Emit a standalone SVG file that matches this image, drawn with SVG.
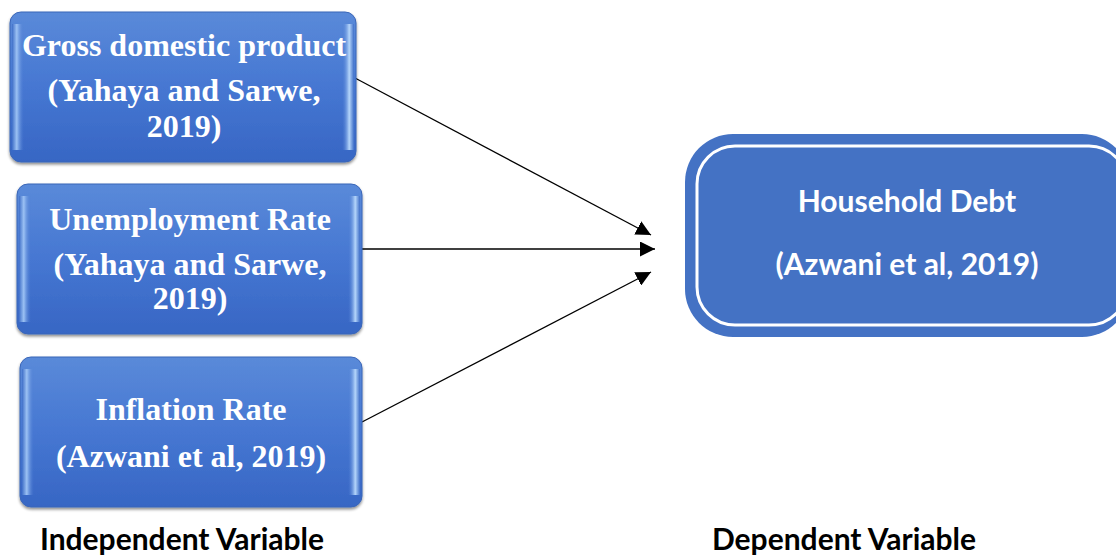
<svg xmlns="http://www.w3.org/2000/svg" width="1116" height="555" viewBox="0 0 1116 555">
<defs>
<linearGradient id="boxFill" x1="0" y1="0" x2="0" y2="1">
<stop offset="0" stop-color="#5a8ad9"/>
<stop offset="0.5" stop-color="#4677d2"/>
<stop offset="1" stop-color="#3766c4"/>
</linearGradient>
<linearGradient id="bevelL" x1="0" y1="0" x2="1" y2="0">
<stop offset="0" stop-color="#3f6fc8"/>
<stop offset="0.4" stop-color="#9cc2f4"/>
<stop offset="1" stop-color="#4a7ad2" stop-opacity="0"/>
</linearGradient>
<linearGradient id="bevelR" x1="1" y1="0" x2="0" y2="0">
<stop offset="0" stop-color="#3f6fc8"/>
<stop offset="0.4" stop-color="#b5d6fb"/>
<stop offset="1" stop-color="#4a7ad2" stop-opacity="0"/>
</linearGradient>
<filter id="shadow" x="-10%" y="-10%" width="120%" height="130%">
<feGaussianBlur in="SourceAlpha" stdDeviation="1.5"/>
<feOffset dx="0" dy="2" result="b"/>
<feComponentTransfer><feFuncA type="linear" slope="0.45"/></feComponentTransfer>
<feMerge><feMergeNode/><feMergeNode in="SourceGraphic"/></feMerge>
</filter>
<marker id="arrow" viewBox="0 0 10 10" refX="10" refY="5" markerWidth="15" markerHeight="15" markerUnits="userSpaceOnUse" orient="auto">
<path d="M0,0 L10,5 L0,10 Z" fill="#000"/>
</marker>
</defs>
<style>
.box{fill:url(#boxFill);stroke:#3a66b8;stroke-width:1;filter:url(#shadow)}
.btxt{font-family:"Liberation Serif","Times New Roman",serif;font-weight:bold;font-size:32px;fill:#fff;text-anchor:middle}
.ctxt{font-family:Lato,"Open Sans",sans-serif;font-weight:bold;font-size:30px;fill:#fff;text-anchor:middle}
.lbl{font-family:Lato,"Open Sans",sans-serif;font-weight:bold;font-size:30px;fill:#000;text-anchor:middle}
.conn{stroke:#000;stroke-width:1.3;fill:none;marker-end:url(#arrow)}
</style>
<rect width="1116" height="555" fill="#fff"/>
<g id="connectors">
<line class="conn" x1="355" y1="78" x2="651" y2="235"/>
<line class="conn" x1="362" y1="249" x2="655" y2="249"/>
<line class="conn" x1="362" y1="422" x2="651" y2="272"/>
</g>
<g id="gdp">
<rect class="box" x="10" y="12" width="346" height="150" rx="11"/>
<rect x="12" y="24" width="12" height="126" fill="url(#bevelL)"/>
<rect x="342" y="24" width="12" height="126" fill="url(#bevelR)"/>
<text class="btxt" x="184" y="56">Gross domestic product</text>
<text class="btxt" x="184" y="101">(Yahaya and Sarwe,</text>
<text class="btxt" x="184" y="137">2019)</text>
</g>
<g id="unemployment">
<rect class="box" x="17" y="184" width="345" height="150" rx="11"/>
<rect x="19" y="196" width="12" height="126" fill="url(#bevelL)"/>
<rect x="348" y="196" width="12" height="126" fill="url(#bevelR)"/>
<text class="btxt" x="190" y="230">Unemployment Rate</text>
<text class="btxt" x="190" y="275">(Yahaya and Sarwe,</text>
<text class="btxt" x="190" y="309">2019)</text>
</g>
<g id="inflation">
<rect class="box" x="20" y="357" width="342" height="150" rx="11"/>
<rect x="22" y="369" width="12" height="126" fill="url(#bevelL)"/>
<rect x="348" y="369" width="12" height="126" fill="url(#bevelR)"/>
<text class="btxt" x="191" y="420">Inflation Rate</text>
<text class="btxt" x="191" y="467">(Azwani et al, 2019)</text>
</g>
<g id="household">
<rect x="685" y="134" width="445" height="203" rx="48" fill="#4472c4"/>
<rect x="697" y="146" width="430" height="179" rx="38" fill="none" stroke="#fff" stroke-width="3"/>
<text class="ctxt" x="907" y="212">Household Debt</text>
<text class="ctxt" x="907" y="275">(Azwani et al, 2019)</text>
</g>
<g id="labels">
<text class="lbl" x="182" y="550">Independent Variable</text>
<text class="lbl" x="844" y="550">Dependent Variable</text>
</g>
</svg>
